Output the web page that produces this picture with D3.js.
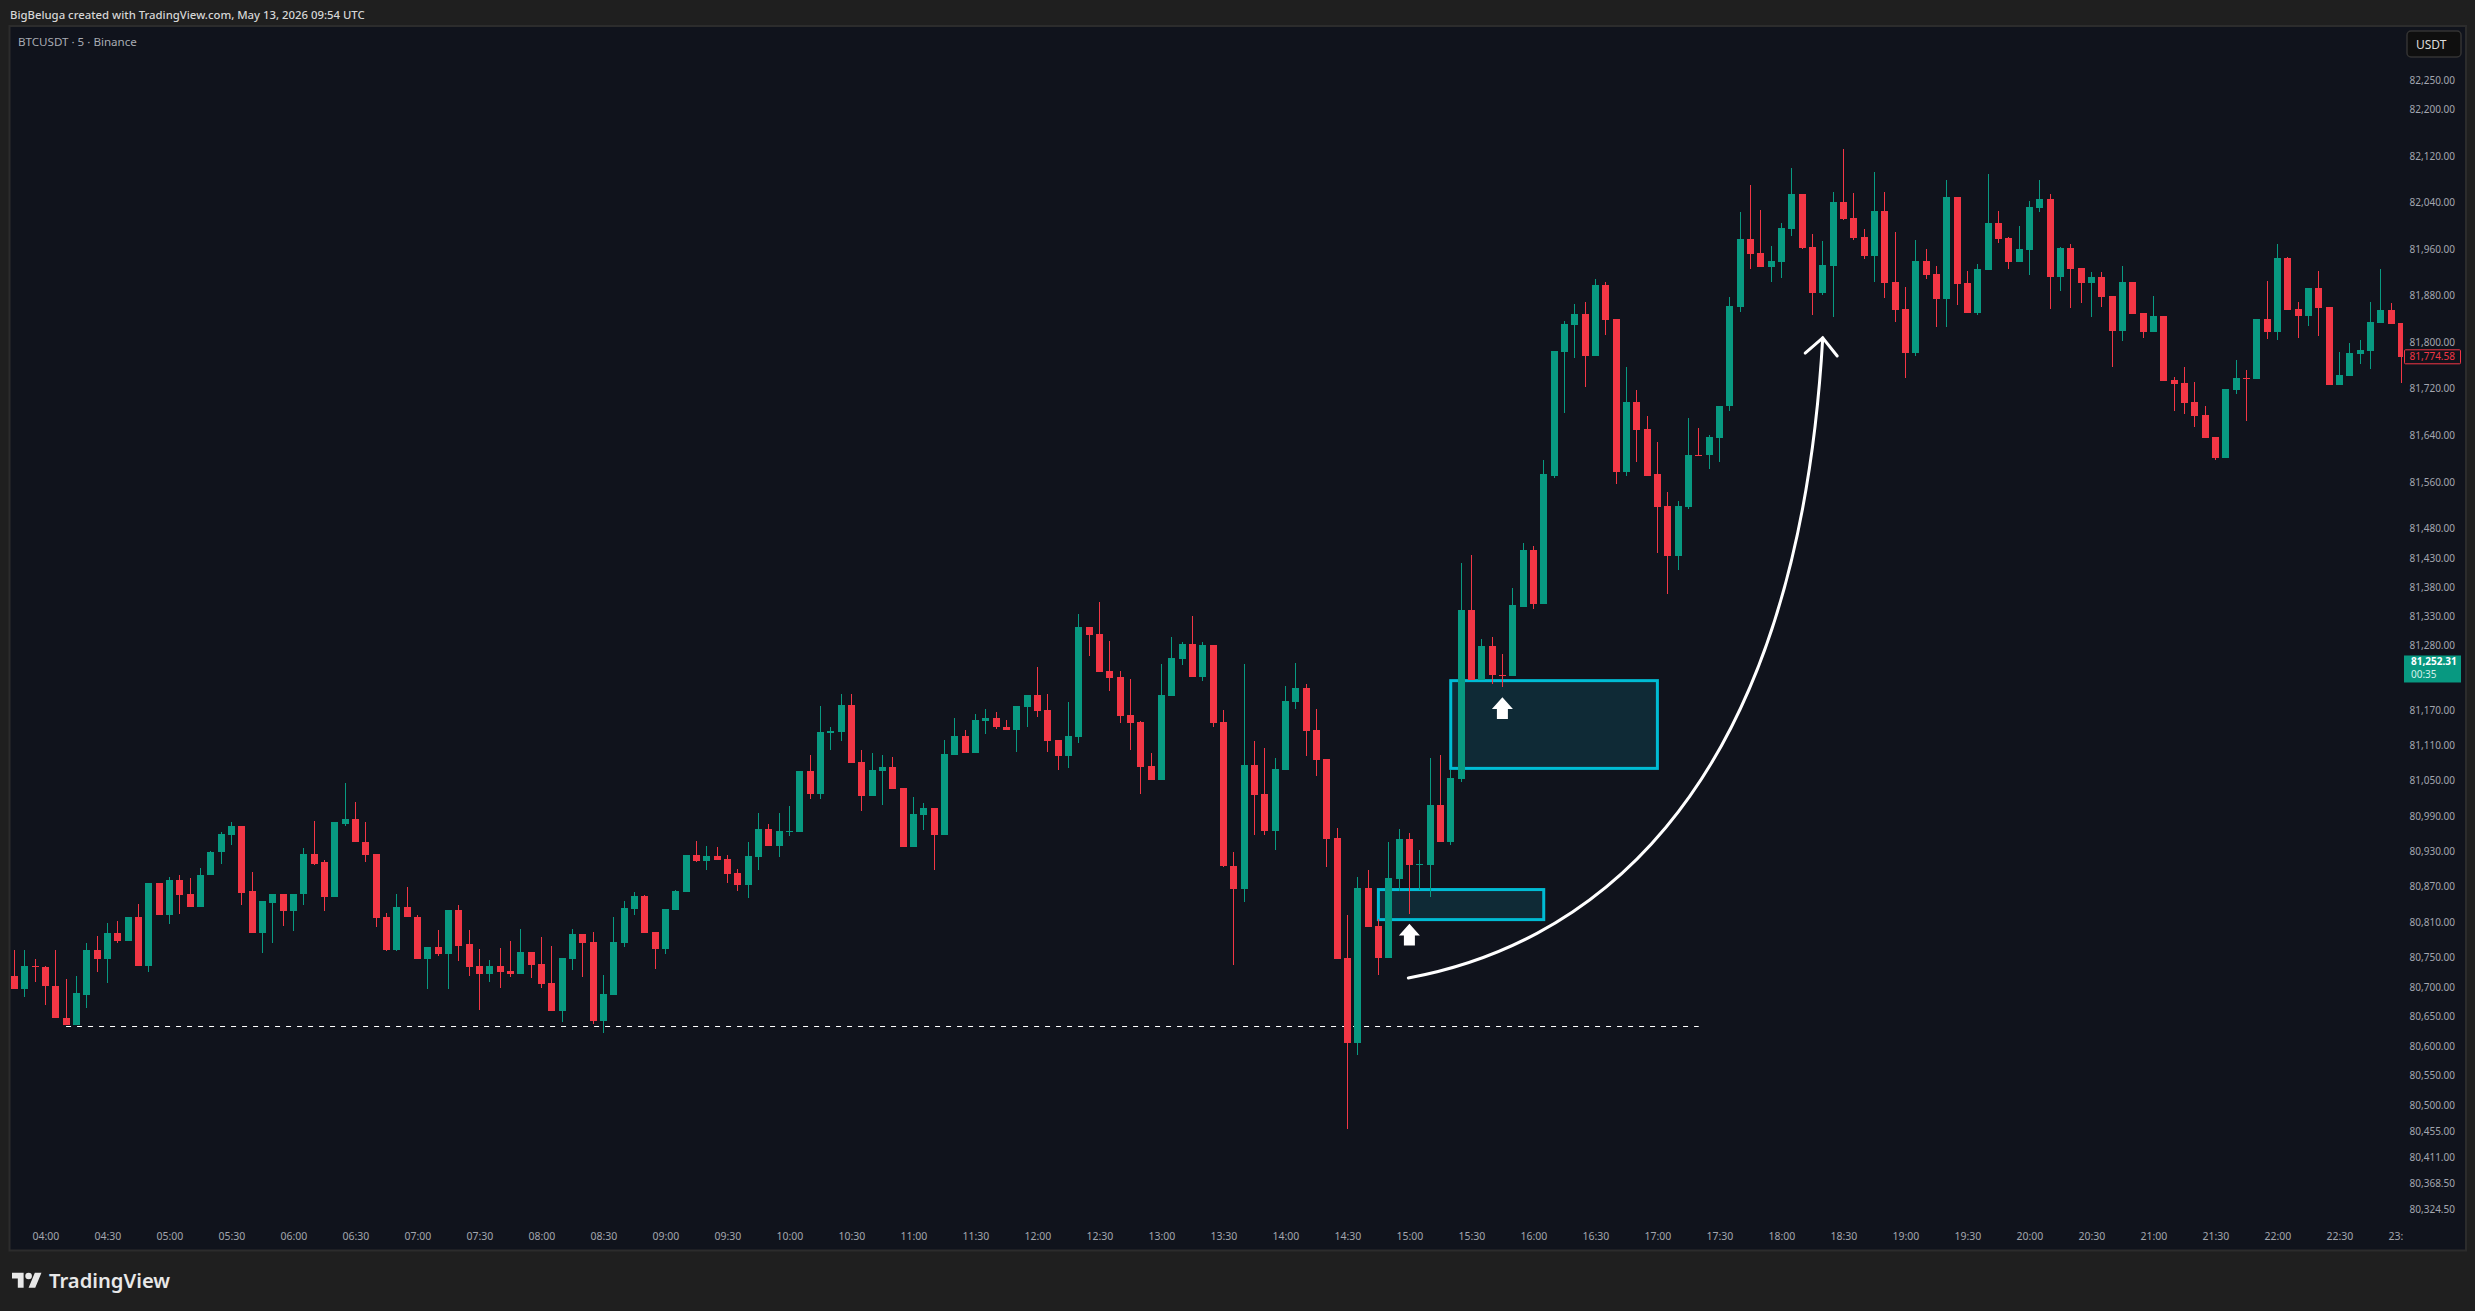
<!DOCTYPE html>
<html><head><meta charset="utf-8">
<script src="https://cdn.jsdelivr.net/npm/d3@7/dist/d3.min.js"></script>
<style>
html,body{margin:0;padding:0;background:#1f1f1f;overflow:hidden}
svg{display:block}
text{font-family:"Noto Sans",Roboto,sans-serif}
</style></head><body>
<svg id="c" width="2475" height="1311"></svg>
<script>
const opens=[80719,80696,80735,80733,80702,80648,80636,80687,80763,80748,
80791,80777,80819,80736,80877,80821,80882,80857,80836,80889,
80928,80958,80973,80862,80791,80843,80857,80828,80857,80926,
80911,80853,80977,80985,80946,80926,80818,80762,80835,80819,
80747,80767,80755,80831,80772,80735,80721,80735,80727,80722,
80759,80739,80706,80659,80747,80789,80776,80642,80686,80774,
80832,80854,80793,80764,80830,80861,80923,80913,80922,80917,
80893,80873,80920,80968,80939,80963,80963,81066,81027,81131,
81133,81179,81082,81024,81066,81073,81037,80937,80992,81003,
80958,81094,81127,81097,81151,81156,81142,81136,81175,81196,
81170,81119,81092,81124,81312,81300,81237,81226,81162,81150,
81075,81051,81194,81257,81283,81226,81281,81150,80905,80866,
81077,81027,80964,81068,81184,81208,81136,81087,80952,80749,
80605,80867,80803,80749,80883,80951,80907,80907,81008,80946,
81053,81341,81222,81279,81230,81228,81347,81443,81351,81571,
81783,81829,81848,81776,81898,81840,81577,81697,81650,81573,
81519,81433,81517,81607,81606,81635,81690,81860,81977,81953,
81929,81937,81994,82054,81963,81884,81930,82041,82013,81980,
81948,82025,81903,81857,81781,81939,81917,81874,82049,81901,
81850,81923,82004,81979,81937,81958,82030,82046,81912,81961,
81927,81901,81911,81879,81819,81903,81850,81817,81845,81735,
81730,81697,81674,81637,81601,81717,81738,81736,81839,81817,
81944,81857,81845,81893,81860,81726,81741,81779,81784,81833,
81855,81833];
const highs=[80762,80763,80747,80735,80763,80713,80718,80774,80787,80809,
80811,80819,80841,80877,80877,80887,80889,80885,80902,80931,
80962,80979,80973,80894,80845,80857,80858,80858,80935,80982,
80916,80979,81046,81014,80979,80926,80826,80858,80870,80821,
80767,80797,80831,80838,80797,80765,80745,80766,80778,80798,
80759,80784,80769,80749,80798,80789,80793,80720,80818,80845,
80861,80855,80793,80832,80864,80923,80947,80939,80937,80923,
80900,80946,80995,80976,80995,81007,81066,81094,81177,81141,
81197,81197,81102,81098,81094,81090,81037,81022,81012,81003,
81119,81156,81136,81163,81173,81167,81154,81177,81196,81243,
81197,81119,81184,81334,81312,81355,81288,81237,81223,81151,
81097,81249,81295,81286,81331,81286,81281,81170,80929,81249,
81117,81105,81088,81211,81250,81215,81172,81087,80969,80822,
80886,80898,80815,80946,80968,80961,80932,81088,81094,81068,
81421,81435,81291,81295,81266,81378,81455,81450,81597,81784,
81836,81865,81869,81908,81903,81840,81757,81717,81673,81628,
81543,81527,81669,81652,81640,81691,81877,82023,82070,82027,
81965,82004,82100,82054,81985,81973,82058,82133,82056,81994,
82093,82058,81989,81894,81975,81960,81930,82078,82049,81922,
81934,82089,82025,81980,81999,82042,82078,82054,81963,81968,
81927,81920,81920,81879,81930,81903,81850,81879,81845,81740,
81757,81731,81691,81637,81719,81769,81752,81839,81905,81968,
81946,81869,81893,81922,81860,81783,81798,81803,81869,81925,
81867,81833];
const lows=[80696,80682,80708,80669,80647,80636,80636,80665,80726,80706,
80775,80777,80736,80726,80821,80807,80823,80836,80836,80889,
80909,80940,80838,80791,80758,80774,80804,80794,80838,80907,
80828,80853,80973,80945,80912,80801,80760,80760,80818,80747,
80697,80752,80697,80743,80719,80660,80709,80698,80716,80722,
80715,80698,80659,80640,80728,80716,80637,80622,80686,80767,
80822,80791,80730,80755,80830,80861,80912,80898,80915,80876,
80862,80850,80898,80939,80920,80956,80963,81019,81019,81102,
81117,81080,80998,81024,81008,81036,80937,80937,80966,80898,
80958,81094,81097,81097,81129,81138,81136,81099,81141,81158,
81099,81068,81072,81114,81262,81235,81203,81148,81102,81027,
81051,81051,81194,81247,81226,81220,81141,80903,80737,80844,
80958,80958,80932,81068,81172,81092,81058,80903,80747,80460,
80584,80801,80720,80749,80862,80823,80864,80852,80946,80941,
81048,81222,81222,81215,81209,81228,81347,81342,81351,81566,
81678,81772,81723,81776,81812,81556,81570,81594,81571,81438,
81368,81409,81514,81606,81583,81594,81681,81851,81925,81929,
81903,81910,81982,81960,81846,81880,81843,82010,81975,81942,
81903,81875,81834,81738,81776,81908,81826,81826,81864,81850,
81846,81923,81970,81925,81937,81915,82023,81857,81887,81858,
81867,81843,81860,81757,81802,81848,81807,81817,81733,81681,
81677,81654,81635,81597,81601,81711,81664,81736,81805,81803,
81855,81807,81828,81810,81726,81726,81741,81762,81753,81833,
81831,81730];
const closes=[80696,80735,80733,80701,80647,80636,80689,80763,80748,80791,
80777,80819,80736,80877,80821,80882,80855,80836,80890,80929,
80960,80973,80860,80791,80845,80857,80828,80858,80926,80909,
80853,80979,80985,80945,80924,80816,80762,80835,80818,80747,
80767,80755,80831,80770,80733,80721,80735,80725,80722,80759,
80737,80705,80659,80749,80789,80774,80642,80688,80776,80833,
80854,80791,80764,80832,80862,80923,80913,80922,80915,80891,
80873,80922,80968,80939,80964,80964,81066,81027,81133,81134,
81179,81080,81024,81068,81073,81036,80937,80993,81003,80958,
81095,81127,81097,81153,81156,81141,81136,81177,81196,81168,
81117,81092,81126,81312,81298,81235,81225,81160,81148,81073,
81051,81196,81259,81283,81226,81281,81148,80905,80866,81077,
81026,80964,81070,81185,81208,81134,81085,80951,80747,80605,
80867,80801,80749,80884,80951,80907,80908,81008,80946,81054,
81341,81222,81279,81230,81228,81349,81443,81351,81573,81784,
81831,81848,81776,81898,81838,81577,81697,81649,81571,81517,
81433,81519,81607,81606,81637,81691,81862,81977,81951,81929,
81939,81996,82054,81961,81884,81932,82041,82011,81979,81948,
82025,81901,81855,81781,81939,81915,81874,82049,81899,81850,
81925,82004,81977,81937,81960,82032,82046,81912,81961,81925,
81901,81911,81877,81819,81903,81848,81817,81845,81733,81728,
81695,81673,81635,81601,81719,81738,81736,81839,81817,81944,
81855,81845,81893,81858,81726,81743,81781,81786,81834,81855,
81831,81774.58];

const priceTicks=[82250,82200,82120,82040,81960,81880,81800,81720,81640,81560,81480,81430,81380,81330,81280,81170,81110,81050,80990,80930,80870,80810,80750,80700,80650,80600,80550,80500,80455,80411,80368.5,80324.5];
const timeLabels=["04:00","04:30","05:00","05:30","06:00","06:30","07:00","07:30","08:00","08:30","09:00","09:30","10:00","10:30","11:00","11:30","12:00","12:30","13:00","13:30","14:00","14:30","15:00","15:30","16:00","16:30","17:00","17:30","18:00","18:30","19:00","19:30","20:00","20:30","21:00","21:30","22:00","22:30","23:00"];
const timeTickBars=timeLabels.map((_,k)=>3+6*k);

const headerText="BigBeluga created with TradingView.com, May 13, 2026 09:54 UTC";
const symbolText="BTCUSDT · 5 · Binance";
const currencyText="USDT";
const lastPrice=81774.58, countdownPrice=81252.31, countdownText="00:35";

// drawings, in bar index and price
const zoneBars=[[139,159],[132,148]];
const zonePrices=[[81220.5,81071],[80865,80814]];
const markerBars=[135,144];
const markerPrices=[80807,81192];
const levelBars=[5,163];
const levelPrice=80633;
const curveBars=[134.9,150.54,172.32,175.0];
const curvePrices=[80715,80766,80983,81807];
const headBars=[173.3,175.0,176.4];
const headPrices=[81781,81807,81776];

const GREEN="#089981",RED="#F23645",PANE="#10131c",BORDER="#2c2c2c",AXIS="#a3a6af",CYAN="#00bcd4";
const svg=d3.select("#c");
const x=d3.scaleLinear().domain([0,231]).range([14.4,2401.4]);
const y=d3.scaleLog().domain([80324.5,82250]).range([1209,80.7]);

svg.append("rect").attr("width",2475).attr("height",1311).attr("fill","#1f1f1f");
svg.append("rect").attr("x",9.5).attr("y",26).attr("width",2456.5).attr("height",1224.5)
  .attr("fill",PANE).attr("stroke",BORDER).attr("stroke-width",2);
svg.append("text").attr("x",10).attr("y",19).attr("fill","#d6d6d6").attr("font-size",11.35).attr("font-weight",500).text(headerText);
svg.append("text").attr("x",18).attr("y",46).attr("fill","#a8abb3").attr("font-size",11.6).text(symbolText);

const defs=svg.append("defs");
defs.append("clipPath").attr("id","pane").append("rect").attr("x",11).attr("y",27).attr("width",2392).attr("height",1222);

const chart=svg.append("g").attr("clip-path","url(#pane)");

// zones
chart.append("g").selectAll("rect").data(zoneBars).join("rect")
  .attr("x",d=>x(d[0])).attr("width",d=>x(d[1])-x(d[0]))
  .attr("y",(d,i)=>y(zonePrices[i][0])).attr("height",(d,i)=>y(zonePrices[i][1])-y(zonePrices[i][0]))
  .attr("fill","#0f2a36").attr("stroke",CYAN).attr("stroke-width",3);

// level
chart.append("line").attr("x1",x(levelBars[0])).attr("x2",x(levelBars[1]))
  .attr("y1",Math.round(y(levelPrice))+0.5).attr("y2",Math.round(y(levelPrice))+0.5)
  .attr("stroke","#fff").attr("stroke-width",1).attr("stroke-dasharray","5 6");

// candles
const bars=d3.range(opens.length);
const px=i=>Math.floor(x(i));
const g=chart.append("g").attr("shape-rendering","crispEdges");
g.selectAll("rect.w").data(bars).join("rect").attr("class","w")
  .attr("x",px).attr("width",1)
  .attr("y",i=>Math.round(y(highs[i]))).attr("height",i=>Math.max(1,Math.round(y(lows[i]))-Math.round(y(highs[i]))))
  .attr("fill",i=>closes[i]>=opens[i]?GREEN:RED);
g.selectAll("rect.b").data(bars).join("rect").attr("class","b")
  .attr("x",i=>px(i)-3).attr("width",7)
  .attr("y",i=>Math.round(y(Math.max(opens[i],closes[i]))))
  .attr("height",i=>Math.max(1,Math.round(y(Math.min(opens[i],closes[i])))-Math.round(y(Math.max(opens[i],closes[i])))))
  .attr("fill",i=>closes[i]>=opens[i]?GREEN:RED);

// up markers
chart.append("g").selectAll("path").data(markerBars).join("path")
  .attr("transform",(d,i)=>`translate(${x(d)},${y(markerPrices[i])})`)
  .attr("d","M0,0L10.5,11.7L5.5,11.7L5.5,21.7L-5.5,21.7L-5.5,11.7L-10.5,11.7Z")
  .attr("fill","#fff");

// curved arrow: one cubic through the scales
const cp=curveBars.map((b,i)=>[x(b),y(curvePrices[i])]);
const curve=d3.path();
curve.moveTo(cp[0][0],cp[0][1]);
curve.bezierCurveTo(cp[1][0],cp[1][1],cp[2][0],cp[2][1],cp[3][0],cp[3][1]);
chart.append("path").attr("d",curve.toString())
  .attr("fill","none").attr("stroke","#fff").attr("stroke-width",3).attr("stroke-linecap","round");
const line=d3.line().x(d=>x(d[0])).y(d=>y(d[1]));
chart.append("path").datum(headBars.map((b,i)=>[b,headPrices[i]]))
  .attr("d",line)
  .attr("fill","none").attr("stroke","#fff").attr("stroke-width",3).attr("stroke-linecap","round").attr("stroke-linejoin","miter");

// axes
const fmt=d3.format(",.2f");
const yAxis=svg.append("g").attr("transform","translate(2455,0)")
  .call(d3.axisLeft(y).tickValues(priceTicks).tickFormat(fmt).tickSize(0).tickPadding(0));
yAxis.select(".domain").remove();
yAxis.selectAll("text").attr("fill",AXIS).attr("font-size",10).attr("font-family",'"Noto Sans",Roboto,sans-serif');

const xAxis=svg.append("g").attr("clip-path","url(#pane)").append("g").attr("transform","translate(0,1233)")
  .call(d3.axisBottom(x).tickValues(timeTickBars).tickFormat((d,i)=>timeLabels[i]).tickSize(0).tickPadding(0));
xAxis.select(".domain").remove();
xAxis.selectAll("text").attr("fill",AXIS).attr("font-size",10.5).attr("font-family",'"Noto Sans",Roboto,sans-serif');

// currency button
svg.append("rect").attr("x",2407).attr("y",31).attr("width",54).attr("height",26).attr("rx",4)
  .attr("fill","#0f0f0f").attr("stroke","#333").attr("stroke-width",1.5);
svg.append("text").attr("x",2416).attr("y",49).attr("fill","#dcdcdc").attr("font-size",12).text(currencyText);

// last price tags
const ly=y(lastPrice);
svg.append("rect").attr("x",2404.5).attr("y",ly-7).attr("width",56).attr("height",14).attr("rx",1)
  .attr("fill",PANE).attr("stroke",RED).attr("stroke-width",1);
svg.append("text").attr("x",2455).attr("y",ly+3.5).attr("text-anchor","end").attr("fill",RED).attr("font-size",10).text(fmt(lastPrice));

const cy=y(countdownPrice);
svg.append("rect").attr("x",2404).attr("y",cy-6.5).attr("width",57).attr("height",27).attr("fill",GREEN);
svg.append("text").attr("x",2411).attr("y",cy+3.5).attr("fill","#fff").attr("font-size",10).attr("font-weight",700).text(fmt(countdownPrice));
svg.append("text").attr("x",2411).attr("y",cy+16).attr("fill","#d5f0ea").attr("font-size",10).text(countdownText);

// logo
const logo=svg.append("g").attr("transform","translate(12,1269.4) scale(0.83)");
logo.append("path").attr("d","M14 22H7V11H0V4h14v18zM28 22h-8l7.5-18h8L28 22z").attr("fill","#e8e8e8");
logo.append("circle").attr("cx",20).attr("cy",8).attr("r",4).attr("fill","#e8e8e8");
svg.append("text").attr("x",49).attr("y",1288).attr("fill","#e8e8e8").attr("font-size",20.2).attr("font-weight",600).attr("font-family",'Inter,"Noto Sans",sans-serif').text("TradingView");
</script>
</body></html>
